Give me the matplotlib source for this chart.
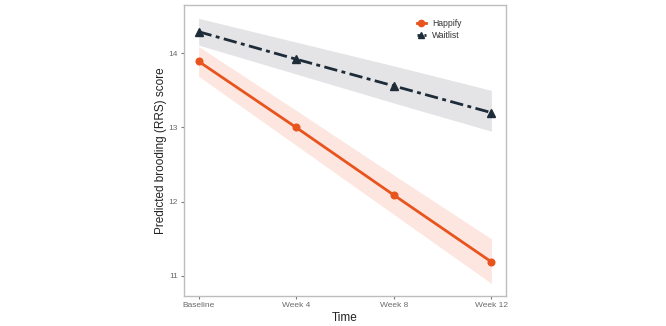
import matplotlib
matplotlib.use("Agg")
import matplotlib.pyplot as plt
from matplotlib.lines import Line2D

plt.rcParams['font.family'] = ['Liberation Sans', 'DejaVu Sans']

time_labels = ["Baseline", "Week 4", "Week 8", "Week 12"]
happify = [13.89, 13.00, 12.09, 11.19]
happify_lo = [13.69, 12.76, 11.83, 10.90]
happify_hi = [14.09, 13.23, 12.36, 11.50]
waitlist = [14.29, 13.92, 13.56, 13.20]
waitlist_lo = [14.11, 13.72, 13.33, 12.95]
waitlist_hi = [14.47, 14.15, 13.83, 13.50]
y_ticks = [11, 12, 13, 14]

orange = "#E8541E"
navy = "#1E2B38"

fig = plt.figure(figsize=(6.66, 3.26), dpi=100)
ax = fig.add_axes([184/666, 1-296/326, (506-184)/666, (296-5)/326])
x = list(range(len(time_labels)))

ax.fill_between(x, waitlist_lo, waitlist_hi, color="#E4E4E7", lw=0, zorder=1)
ax.fill_between(x, happify_lo, happify_hi, color="#FDE6DF", lw=0, zorder=1)
ax.plot(x, waitlist, color=navy, lw=2.0, dashes=(4.8, 1.6, 1.4, 1.6), marker="^", ms=5.5, zorder=3)
ax.plot(x, happify, color=orange, lw=2.0, marker="o", ms=4.8, zorder=4)

ax.set_xlim(-0.15, 3.15)
ax.set_ylim(10.73, 14.65)
ax.set_xticks(x)
ax.set_xticklabels(time_labels)
ax.set_yticks(y_ticks)
ax.tick_params(colors="#7a7a7a", labelcolor="#6b6b6b", labelsize=6, length=2.5, width=0.8, pad=2)
for s in ax.spines.values():
    s.set_color("#bdbdbd")
    s.set_linewidth(1.0)
ax.set_xlabel("Time", fontsize=8.5, color="#222222", labelpad=2)
ax.set_ylabel("Predicted brooding (RRS) score", fontsize=8.5, color="#222222")
ax.yaxis.set_label_coords(-0.052, 0.5)

handles = [
    Line2D([], [], color=orange, lw=2.0, marker="o", ms=4.5),
    Line2D([], [], color=navy, lw=2.0, marker="^", ms=4.5, dashes=(1.5, 1)),
]
leg = ax.legend(handles, ["Happify", "Waitlist"], loc="upper left", bbox_to_anchor=(0.70, 0.98),
                frameon=False, fontsize=6.2, handlelength=1.0, handletextpad=0.7, labelspacing=0.4)
for t in leg.get_texts():
    t.set_color("#333333")

fig.savefig("out.png", dpi=100)
